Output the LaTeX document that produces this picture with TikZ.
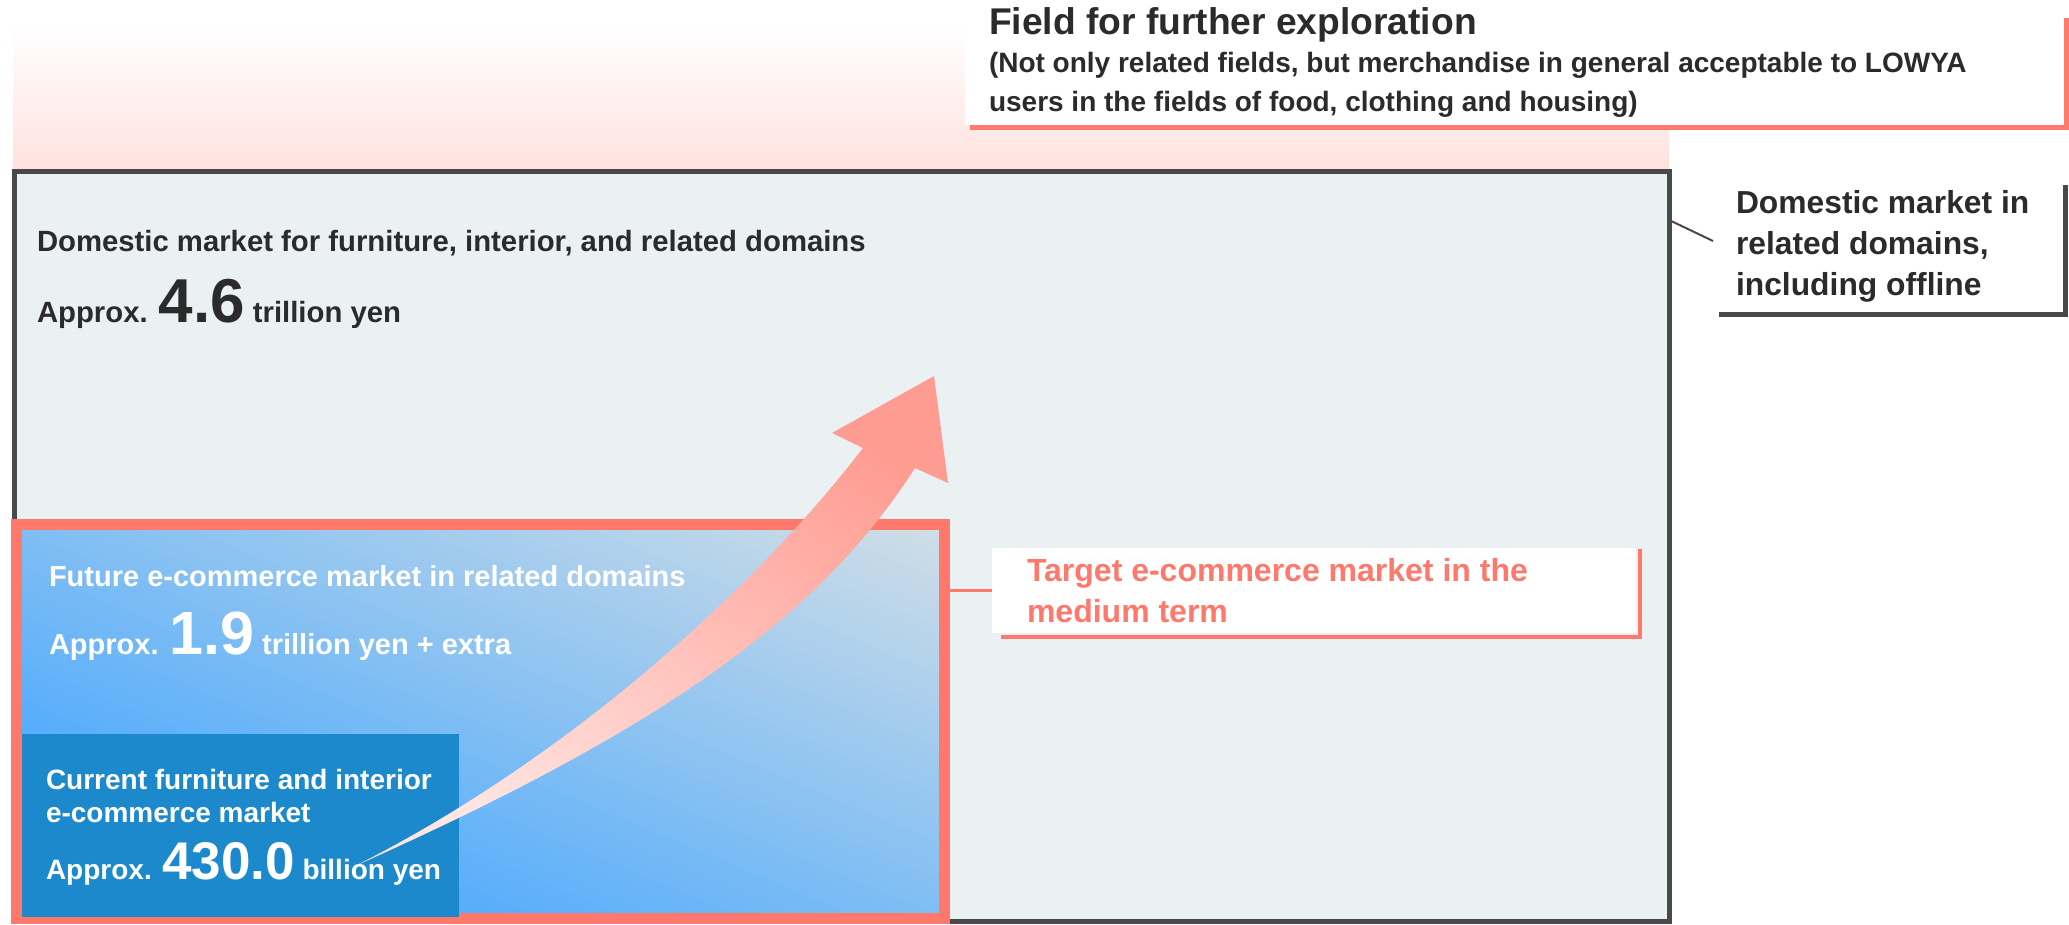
\documentclass[tikz,border=0pt]{standalone}
\usepackage{fontspec}
\setmainfont{Liberation Sans}
\usetikzlibrary{calc}
\definecolor{salmon}{RGB}{255,120,108}
\definecolor{frameg}{RGB}{72,73,75}
\definecolor{txt}{RGB}{43,43,43}
\definecolor{boxfill}{RGB}{235,240,243}
\definecolor{curblue}{RGB}{27,137,204}
\definecolor{gradblue}{RGB}{88,174,250}
\definecolor{gradgray}{RGB}{209,222,230}
\definecolor{pinkband}{RGB}{255,225,222}
\definecolor{arrowtop}{RGB}{255,156,146}
\definecolor{arrowbot}{RGB}{255,230,227}
\newcommand\myfs[1]{\fontsize{#1}{#1}\selectfont}
\begin{document}
\begin{tikzpicture}[x=1pt,y=-1pt,
  every node/.style={inner sep=0pt,outer sep=0pt},
  boxnode/.style={anchor=north west},
  txtnode/.style={anchor=base west,font=\bfseries,text=txt},
  whitetxt/.style={anchor=base west,font=\bfseries,text=white},
  redtxt/.style={anchor=base west,font=\bfseries,text=salmon}]
\useasboundingbox (0,0) rectangle (2069,925);
\fill[white] (0,0) rectangle (2069,925);
% pink band
\shade[top color=white,bottom color=pinkband] (13,25) rectangle (1669,172);
% field label box
\node[boxnode,fill=white,minimum width=1097pt,minimum height=125pt] (fieldbox) at (965,0) {};
\draw[salmon,line width=5pt] (970,128) -- (2066.5,128) -- (2066.5,18);
\node[txtnode] (ftitle) at (989,35) {\myfs{37.2}Field for further exploration};
\node[txtnode] (fsub1) at (989,73) {\myfs{28}(Not only related fields, but merchandise in general acceptable to LOWYA};
\node[txtnode] (fsub2) at (989,112) {\myfs{28}users in the fields of food, clothing and housing)};
% domestic market box
\node[boxnode,fill=boxfill,draw=frameg,line width=5pt,minimum width=1655pt,minimum height=749pt] (dom) at (14,172) {};
\node[txtnode] (domt) at (37,252) {\myfs{29.3}Domestic market for furniture, interior, and related domains};
\node[txtnode] (domv) at (37,323) {\myfs{29.3}Approx. \myfs{62}4.6\myfs{29.3} trillion yen};
% right label
\node[boxnode,minimum width=346pt,minimum height=129pt] (dlab) at (1719,185) {};
\draw[frameg,line width=5pt] (dlab.south west) -- (dlab.south east) -- (dlab.north east);
\node[txtnode] (dl1) at (1736,214) {\myfs{31.8}Domestic market in};
\node[txtnode] (dl2) at (1736,255) {\myfs{31.8}related domains,};
\node[txtnode] (dl3) at (1736,296) {\myfs{31.8}including offline};
\coordinate (dlc) at (1713,241);
\draw[frameg,line width=2pt] (dom.north east |- 0,220) -- (dlc);
% target area: diagonal gradient built from strips
\begin{scope}
  \clip (22,530) rectangle (941,917);
  \fill[gradblue] (22,530) rectangle (941,917);
  \foreach \i in {0,...,48}{
    \pgfmathsetmacro\tt{0.25+0.75*\i/48}
    \pgfmathsetmacro\pp{100*\i/48}
    \fill[gradgray!\pp!gradblue]
      ({22+919*\tt-1838},{916-385*\tt-770}) --
      ({22+919*\tt+1838},{916-385*\tt+770}) --
      ({22+919*1.4+1838},{916-385*1.4+770}) --
      ({22+919*1.4-1838},{916-385*1.4-770}) -- cycle;
  }
\end{scope}
\node[boxnode,draw=salmon,line width=11pt,minimum width=928pt,minimum height=394pt] (tgt) at (16.5,524.5) {};
% current box
\node[boxnode,fill=curblue,minimum width=437pt,minimum height=183pt] (cur) at (22,734) {};
\node[whitetxt] (fut1) at (49,586) {\myfs{29}Future e-commerce market in related domains};
\node[whitetxt] (fut2) at (49,654) {\myfs{29}Approx. \myfs{61}1.9\myfs{29} trillion yen + extra};
\node[whitetxt] (cur1) at (46,789) {\myfs{28}Current furniture and interior};
\node[whitetxt] (cur2) at (46,822) {\myfs{28}e-commerce market};
\node[whitetxt] (cur3) at (46,879) {\myfs{28}Approx. \myfs{53}430.0\myfs{28} billion yen};
% target label
\node[boxnode,fill=white,minimum width=644pt,minimum height=85pt] (tlab) at (992,548) {};
\draw[salmon,line width=4.5pt] (1001,637) -- (1640,637) -- (1640,549);
\node[redtxt] (tl1) at (1027,581) {\myfs{32}Target e-commerce market in the};
\node[redtxt] (tl2) at (1027,622) {\myfs{32}medium term};
\draw[salmon,line width=3pt] (tgt.east |- tlab.west) -- (tlab.west);
% growth arrow
\shade[top color=arrowtop,bottom color=arrowbot,shading angle=-35]
  (355,866) .. controls (552,767) and (743,604) .. (863,448)
  -- (832,433) -- (934,376) -- (948,483) -- (915,468)
  .. controls (820,616) and (664,728) .. (355,866) -- cycle;
\end{tikzpicture}
\end{document}
